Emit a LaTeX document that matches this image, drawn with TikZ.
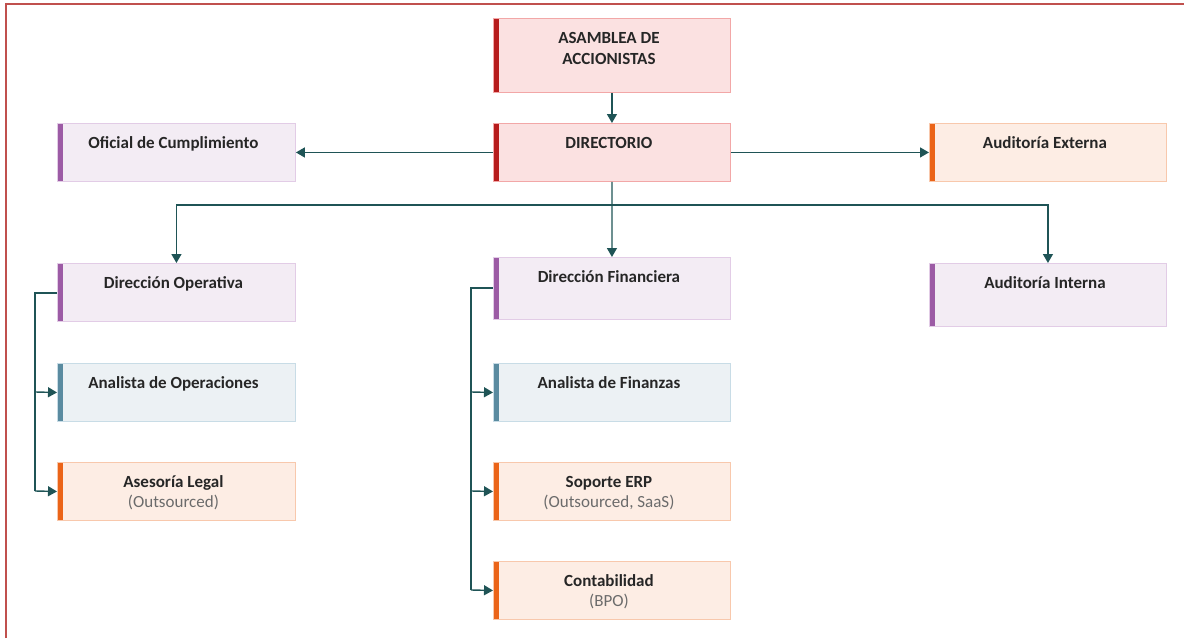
\documentclass[tikz,border=0pt]{standalone}
\usepackage{fontspec}
\setmainfont{Carlito}
\usetikzlibrary{arrows.meta}
\definecolor{redbar}{HTML}{B71C1C}
\definecolor{redfill}{HTML}{FBE1E1}
\definecolor{redline}{HTML}{F2A7A7}
\definecolor{purbar}{HTML}{9C5BA5}
\definecolor{purfill}{HTML}{F3ECF4}
\definecolor{purline}{HTML}{E2CCE6}
\definecolor{orbar}{HTML}{EB6418}
\definecolor{orfill}{HTML}{FDEDE4}
\definecolor{orline}{HTML}{F8C8AC}
\definecolor{blbar}{HTML}{5A8BA0}
\definecolor{blfill}{HTML}{ECF1F4}
\definecolor{blline}{HTML}{C8DCE6}
\definecolor{conn}{HTML}{1F5456}
\definecolor{frame}{HTML}{C0504D}
\definecolor{txt}{HTML}{262626}
\definecolor{sub}{HTML}{6B6B6B}
\tikzset{
  x=1pt, y=-1pt,
  orgbox/.style args={#1/#2/#3}{draw=#3, fill=#2, line width=0.9pt, anchor=north west, inner sep=0pt,
    path picture={\fill[#1] (path picture bounding box.north west) rectangle ([xshift=6pt]path picture bounding box.south west);}},
  redbox/.style={orgbox=redbar/redfill/redline},
  purbox/.style={orgbox=purbar/purfill/purline},
  orbox/.style={orgbox=orbar/orfill/orline},
  blbox/.style={orgbox=blbar/blfill/blline},
  lbl/.style={anchor=north, yshift=-13pt, xshift=-3pt, inner sep=0pt, align=center, font=\fontsize{17}{20}\selectfont\bfseries, text=txt},
  conline/.style={draw=conn, line width=1.4pt},
  arr/.style={conline, -{Triangle[length=9pt,width=10pt]}},
}
\newcommand{\subt}[1]{\\{\mdseries\color{sub}#1}}
\newcommand{\lineht}{\vphantom{fl}}
\begin{document}
\begin{tikzpicture}
\useasboundingbox (0,0) rectangle (1184,638);
\draw[frame, line width=1.2pt] (6,638) -- (6,4) -- (1184,4);

\node[redbox, minimum width=237pt, minimum height=74pt, label={[lbl]north:\lineht ASAMBLEA DE\\[1pt]ACCIONISTAS}] (asa) at (493,18) {};
\node[redbox, minimum width=237pt, minimum height=58pt, label={[lbl]north:\lineht DIRECTORIO}] (dir) at (493,123) {};
\node[purbox, minimum width=238pt, minimum height=58pt, label={[lbl]north:\lineht Oficial de Cumplimiento}] (ofi) at (57,123) {};
\node[orbox, minimum width=237pt, minimum height=58pt, label={[lbl]north:\lineht Auditoría Externa}] (aext) at (929,123) {};

\node[purbox, minimum width=238pt, minimum height=58pt, label={[lbl]north:\lineht Dirección Operativa}] (dop) at (57,263) {};
\node[blbox, minimum width=238pt, minimum height=58pt, label={[lbl]north:\lineht Analista de Operaciones}] (aop) at (57,363) {};
\node[orbox, minimum width=238pt, minimum height=58pt, label={[lbl]north:\lineht Asesoría Legal\subt{(Outsourced)}}] (ase) at (57,462) {};

\node[purbox, minimum width=237pt, minimum height=62pt, label={[lbl]north:\lineht Dirección Financiera}] (dfi) at (493,257) {};
\node[blbox, minimum width=237pt, minimum height=58pt, label={[lbl]north:\lineht Analista de Finanzas}] (afi) at (493,363) {};
\node[orbox, minimum width=237pt, minimum height=58pt, label={[lbl]north:\lineht Soporte ERP\subt{(Outsourced, SaaS)}}] (erp) at (493,462) {};
\node[orbox, minimum width=237pt, minimum height=58pt, label={[lbl]north:\lineht Contabilidad\subt{(BPO)}}] (con) at (493,561) {};

\node[purbox, minimum width=237pt, minimum height=63pt, label={[lbl]north:\lineht Auditoría Interna}] (aint) at (929,263) {};

\coordinate (bus) at (612,205);
\draw[arr] (asa.south) -- (dir.north);
\draw[arr] (dir.west) -- (ofi.east);
\draw[arr] (dir.east) -- (aext.west);
\draw[conline] (dir.south) -- (bus);
\draw[arr] (bus) -| (dop.north);
\draw[arr] (bus) -- (dfi.north);
\draw[arr] (bus) -| (aint.north);

\coordinate (lo) at (35,293);
\draw[conline] ([yshift=-30pt]dop.north west) -- (lo) -- (35,491);
\draw[arr] (35,392) -- (aop.west);
\draw[arr] (35,491) -- (ase.west);

\coordinate (lf) at (471,288);
\draw[conline] ([yshift=-31pt]dfi.north west) -- (lf) -- (471,590);
\draw[arr] (471,392) -- (afi.west);
\draw[arr] (471,491) -- (erp.west);
\draw[arr] (471,590) -- (con.west);
\end{tikzpicture}
\end{document}
